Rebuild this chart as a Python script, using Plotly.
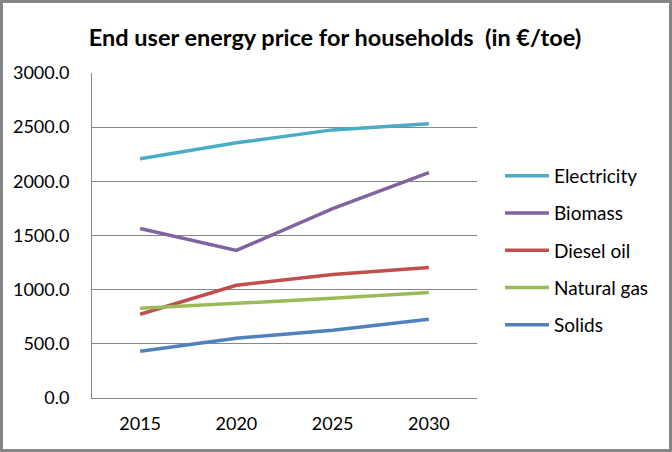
import plotly.graph_objects as go

years = ["2015", "2020", "2025", "2030"]
electricity = [2208, 2356, 2475, 2531]
biomass = [1564, 1362, 1748, 2080]
diesel_oil = [773, 1040, 1141, 1205]
natural_gas = [828, 874, 920, 975]
solids = [432, 552, 626, 727]

series = [
    ("Electricity", electricity, "#4BACC6"),
    ("Biomass", biomass, "#8064A2"),
    ("Diesel oil", diesel_oil, "#C0504D"),
    ("Natural gas", natural_gas, "#9BBB59"),
    ("Solids", solids, "#4F81BD"),
]

W, H = 672, 452
ML, MR, MT, MB = 92, 195, 73, 54
FONT = "Lato"

fig = go.Figure()
for i, (name, vals, col) in enumerate(series):
    fig.add_trace(go.Scatter(
        x=years, y=vals, name=name, mode="lines",
        line=dict(color=col, width=3.5),
        legendgroup=f"g{i}",
    ))

pw = W - ML - MR
ph = H - MT - MB
fig.update_layout(
    width=W, height=H,
    margin=dict(l=ML, r=MR, t=MT, b=MB, pad=0),
    paper_bgcolor="white", plot_bgcolor="white",
    font=dict(family=FONT, color="black", size=18),
    title=dict(text="<b>End user energy price for households  (in €/toe)</b>",
               x=335 / W, xanchor="center", xref="container", y=1 - 38 / H, yanchor="middle",
               font=dict(family=FONT, size=23.5, color="black")),
    xaxis=dict(type="category", range=[-0.5, 3.5], showgrid=False,
               showline=True, linecolor="#868686", linewidth=1,
               ticks="", ticklabelstandoff=9, tickfont=dict(size=18)),
    yaxis=dict(range=[0, 3000], tickvals=[0, 500, 1000, 1500, 2000, 2500, 3000],
               tickformat=".1f", showgrid=True, gridcolor="#868686", gridwidth=1,
               showline=True, linecolor="#868686", linewidth=1, zeroline=False,
               ticks="", ticklabelstandoff=18, tickfont=dict(size=18)),
    showlegend=True,
    legend=dict(x=(508 - ML - 8) / pw, xanchor="left", y=1 - (157 - MT) / ph, yanchor="top",
                tracegroupgap=9.5, itemwidth=44, font=dict(size=19), bgcolor="rgba(0,0,0,0)"),
    shapes=[dict(type="rect", xref="paper", yref="paper",
                 x0=-(ML - 1.5) / pw, x1=1 + (MR - 1.5) / pw,
                 y0=-(MB - 1.5) / ph, y1=1 + (MT - 1.5) / ph,
                 line=dict(color="#868686", width=3), layer="above")],
)

fig.write_html("out.html", config={"displayModeBar": False},
               post_script="document.body.style.margin='0';document.body.style.overflow='hidden';")
